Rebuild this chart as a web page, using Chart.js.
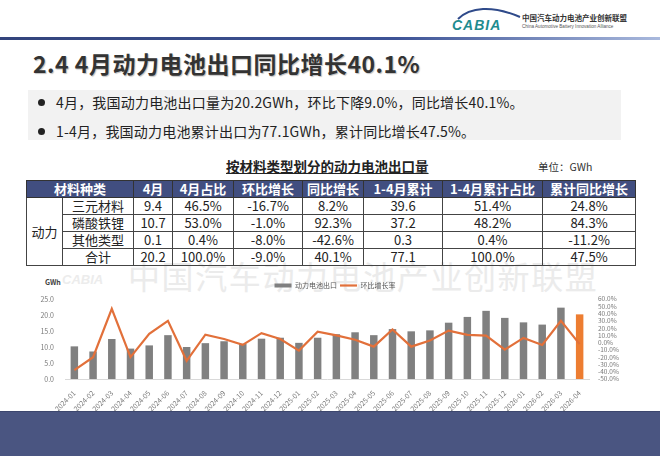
<!DOCTYPE html>
<html lang="zh-CN">
<head>
<meta charset="UTF-8">
<meta name="viewport" content="width=device-width, initial-scale=1.0">
<title>2.4 4月动力电池出口同比增长40.1%</title>
<script src="https://cdn.jsdelivr.net/npm/chart.js"></script>
<style>
    body {
        margin: 0;
        background: #fff;
        font-family: "Noto Sans CJK SC", "Noto Sans", sans-serif;
        color: #222;
    }

    .slide {
        position: relative;
        width: 660px;
        height: 456px;
        overflow: hidden;
        background: #fff;
    }

    .rule {
        position: absolute;
        left: 0;
        top: 37px;
        width: 660px;
        height: 3px;
        background: linear-gradient(to right, #33447c 0%, #3d5396 60%, #a9b9dd 100%);
    }

    .logo { position: absolute; left: 448px; top: 5px; }

    .org-cn {
        position: absolute;
        left: 522px;
        top: 14px;
        font-size: 7.5px;
        font-weight: 700;
        color: #333;
        line-height: 1;
    }

    .org-en {
        position: absolute;
        left: 522px;
        top: 25px;
        font-size: 4.6px;
        color: #555;
        font-family: "Liberation Sans", sans-serif;
        line-height: 1;
    }

    h1 {
        position: absolute;
        left: 33px;
        top: 48px;
        margin: 0;
        font-size: 23px;
        line-height: 30px;
        letter-spacing: 0.5px;
        font-weight: 700;
        color: #333;
        text-shadow: 1px 1px 1px rgba(0, 0, 0, 0.25);
    }

    .points {
        position: absolute;
        left: 28px;
        top: 90px;
        width: 593px;
        height: 50px;
        background: #f2f2f2;
    }

    .points .dot {
        position: absolute;
        left: 10px;
        width: 7px;
        height: 7px;
        border-radius: 50%;
        background: #222;
    }

    .points .txt {
        position: absolute;
        left: 28px;
        font-size: 14px;
        line-height: 20px;
        letter-spacing: 0.2px;
        color: #222;
        white-space: nowrap;
    }

    .watermark {
        position: absolute;
        left: 128px;
        top: 259px;
        font-size: 32px;
        line-height: 1;
        letter-spacing: 1.6px;
        color: #ebebeb;
        white-space: nowrap;
    }

    .watermark-logo {
        position: absolute;
        left: 62px;
        top: 272px;
        font-size: 13px;
        font-style: italic;
        font-weight: 700;
        color: #ececec;
        font-family: "Liberation Sans", sans-serif;
    }

    .tbl-title {
        position: absolute;
        left: 226px;
        top: 157px;
        font-size: 13.5px;
        font-weight: 700;
        text-decoration: underline;
        line-height: 18px;
        color: #222;
    }

    .unit {
        position: absolute;
        left: 538px;
        top: 160px;
        font-size: 10.5px;
        line-height: 14px;
        color: #333;
    }

    table {
        position: absolute;
        left: 26px;
        top: 180px;
        border-collapse: collapse;
        table-layout: fixed;
        width: 609px;
        font-size: 13px;
    }

    th {
        background: #414e80;
        color: #fff;
        font-weight: 700;
        height: 16px;
        line-height: 16px;
        padding: 0;
        border: 1px solid #333;
        white-space: nowrap;
    }

    td {
        height: 16px;
        line-height: 16px;
        padding: 0;
        border: 1px solid #444;
        text-align: center;
        white-space: nowrap;
        color: #222;
    }

    .chart-box {
        position: absolute;
        left: 30px;
        top: 272px;
        width: 610px;
        height: 139px;
    }

    .unit-axis {
        position: absolute;
        left: 45px;
        top: 277px;
        font-size: 7px;
        font-weight: 700;
        color: #444;
    }

    .band {
        position: absolute;
        left: 0;
        top: 411px;
        width: 660px;
        height: 45px;
        background: #4a5581;
        border-top: 1px solid #3c466e;
    }
</style>
</head>
<body>
<div class="slide">
    <!-- header -->
    <svg class="logo" width="74" height="28" viewBox="0 0 74 28">
        <path d="M10 14 C 22 2, 44 0, 72 12" fill="none" stroke="#2f4a8a" stroke-width="2"/>
        <text x="4" y="25" font-family="Liberation Sans" font-style="italic" font-weight="700" font-size="14" fill="#1f8c8f" letter-spacing="1">CABIA</text>
    </svg>
    <div class="org-cn">中国汽车动力电池产业创新联盟</div>
    <div class="org-en">China Automotive Battery Innovation Alliance</div>
    <div class="rule"></div>

    <h1>2.4 4月动力电池出口同比增长40.1%</h1>

    <div class="points">
        <div class="dot" style="top:9px"></div>
        <div class="txt" style="top:2px">4月，我国动力电池出口量为20.2GWh，环比下降9.0%，同比增长40.1%。</div>
        <div class="dot" style="top:38px"></div>
        <div class="txt" style="top:31px">1-4月，我国动力电池累计出口为77.1GWh，累计同比增长47.5%。</div>
    </div>

    <div class="watermark">中国汽车动力电池产业创新联盟</div>
    <div class="watermark-logo">CABIA</div>

    <div class="tbl-title">按材料类型划分的动力电池出口量</div>
    <div class="unit">单位：GWh</div>
    <table id="exportTable"></table>

    <div class="unit-axis">GWh</div>
    <div class="chart-box">
        <canvas id="exportChart" width="610" height="139"></canvas>
    </div>

    <div class="band"></div>
</div>

<script>
    // monthly export volume (GWh) and month-on-month growth (%)
    const months = [
        '2024-01', '2024-02', '2024-03', '2024-04', '2024-05', '2024-06', '2024-07',
        '2024-08', '2024-09', '2024-10', '2024-11', '2024-12',
        '2025-01', '2025-02', '2025-03', '2025-04', '2025-05', '2025-06', '2025-07',
        '2025-08', '2025-09', '2025-10', '2025-11', '2025-12',
        '2026-01', '2026-02', '2026-03', '2026-04'
    ];
    const exportVolume = [
        10.2, 8.6, 12.5, 9.5, 10.5, 13.7, 10.0, 11.2, 11.8, 11.0, 12.6, 12.9,
        11.3, 12.9, 14.0, 14.6, 13.7, 15.6, 14.9, 15.2, 17.6, 19.4, 21.3, 19.1,
        17.7, 17.0, 22.3, 20.2
    ];
    const momGrowth = [
        -37.7, -20.0, 46.5, -20.0, 12.0, 30.0, -25.0, 11.0, 5.0, -3.0, 13.0, 5.0,
        -11.0, 15.0, 10.0, 4.0, -5.5, 18.0, -5.5, 3.0, 16.5, 10.6, 9.7, -9.7,
        6.5, -3.2, 30.0, -2.0
    ];
    const volumeAxis = { min: 0, max: 25, step: 5 };
    const growthAxis = { min: -50, max: 60, step: 10 };

    // table by material type
    const tableHeader = ['材料种类', '4月', '4月占比', '环比增长', '同比增长', '1-4月累计', '1-4月累计占比', '累计同比增长'];
    const groupName = '动力';
    const materialTypes = ['三元材料', '磷酸铁锂', '其他类型', '合计'];
    const aprVolume = ['9.4', '10.7', '0.1', '20.2'];
    const aprShare = ['46.5%', '53.0%', '0.4%', '100.0%'];
    const momChange = ['-16.7%', '-1.0%', '-8.0%', '-9.0%'];
    const yoyChange = ['8.2%', '92.3%', '-42.6%', '40.1%'];
    const ytdVolume = ['39.6', '37.2', '0.3', '77.1'];
    const ytdShare = ['51.4%', '48.2%', '0.4%', '100.0%'];
    const ytdYoy = ['24.8%', '84.3%', '-11.2%', '47.5%'];

    // build the table
    const colWidths = [36, 71, 39, 61, 69, 61, 79, 100, 93];
    const table = document.getElementById('exportTable');
    let html = '<colgroup>' + colWidths.map(w => '<col style="width:' + w + 'px">').join('') + '</colgroup>';
    html += '<tr><th colspan="2">' + tableHeader[0] + '</th>' +
        tableHeader.slice(1).map(h => '<th>' + h + '</th>').join('') + '</tr>';
    materialTypes.forEach((m, i) => {
        html += '<tr>';
        if (i === 0) html += '<td rowspan="4">' + groupName + '</td>';
        html += '<td>' + m + '</td><td>' + aprVolume[i] + '</td><td>' + aprShare[i] + '</td><td>' +
            momChange[i] + '</td><td>' + yoyChange[i] + '</td><td>' + ytdVolume[i] + '</td><td>' +
            ytdShare[i] + '</td><td>' + ytdYoy[i] + '</td></tr>';
    });
    table.innerHTML = html;

    // chart
    Chart.defaults.font.family = '"Noto Sans CJK SC", sans-serif';
    Chart.defaults.color = '#7a7a7a';

    const barColors = exportVolume.map((v, i) => i === exportVolume.length - 1 ? '#ed7d31' : '#808080');

    const exportChart = new Chart(document.getElementById('exportChart'), {
        type: 'bar',
        data: {
            labels: months,
            datasets: [
                {
                    type: 'bar',
                    label: '动力电池出口',
                    data: exportVolume,
                    yAxisID: 'y',
                    backgroundColor: barColors,
                    barPercentage: 0.4,
                    categoryPercentage: 1,
                    pointStyle: 'rect',
                    order: 2
                },
                {
                    type: 'line',
                    label: '环比增长率',
                    data: momGrowth,
                    yAxisID: 'y1',
                    borderColor: '#e2703a',
                    backgroundColor: '#e2703a',
                    borderWidth: 2.2,
                    pointRadius: 0,
                    pointStyle: 'line',
                    tension: 0,
                    order: 1
                }
            ]
        },
        options: {
            responsive: false,
            animation: false,
            layout: { padding: { top: 7 } },
            plugins: {
                legend: {
                    position: 'top',
                    labels: {
                        usePointStyle: true,
                        pointStyleWidth: 17,
                        boxHeight: 4,
                        padding: 3,
                        color: '#555',
                        font: { size: 7 },
                        sort: (a, b) => a.datasetIndex - b.datasetIndex
                    }
                },
                tooltip: { enabled: false }
            },
            scales: {
                x: {
                    grid: { display: false },
                    border: { color: '#d9d9d9' },
                    ticks: { font: { size: 7 }, maxRotation: 45, minRotation: 45, autoSkip: false, padding: 2 },
                    afterFit: s => { s.height = 32; }
                },
                y: {
                    position: 'left',
                    min: volumeAxis.min,
                    max: volumeAxis.max,
                    grid: { display: false },
                    border: { display: false },
                    ticks: { stepSize: volumeAxis.step, font: { size: 7 }, callback: v => v.toFixed(1) },
                    afterFit: s => { s.width = 35; }
                },
                y1: {
                    position: 'right',
                    min: growthAxis.min,
                    max: growthAxis.max,
                    grid: { display: false },
                    border: { display: false },
                    ticks: { stepSize: growthAxis.step, autoSkip: false, padding: 1, font: { size: 6.5 }, callback: v => v.toFixed(1) + '%' },
                    afterFit: s => { s.width = 51; }
                }
            }
        }
    });
</script>
</body>
</html>
